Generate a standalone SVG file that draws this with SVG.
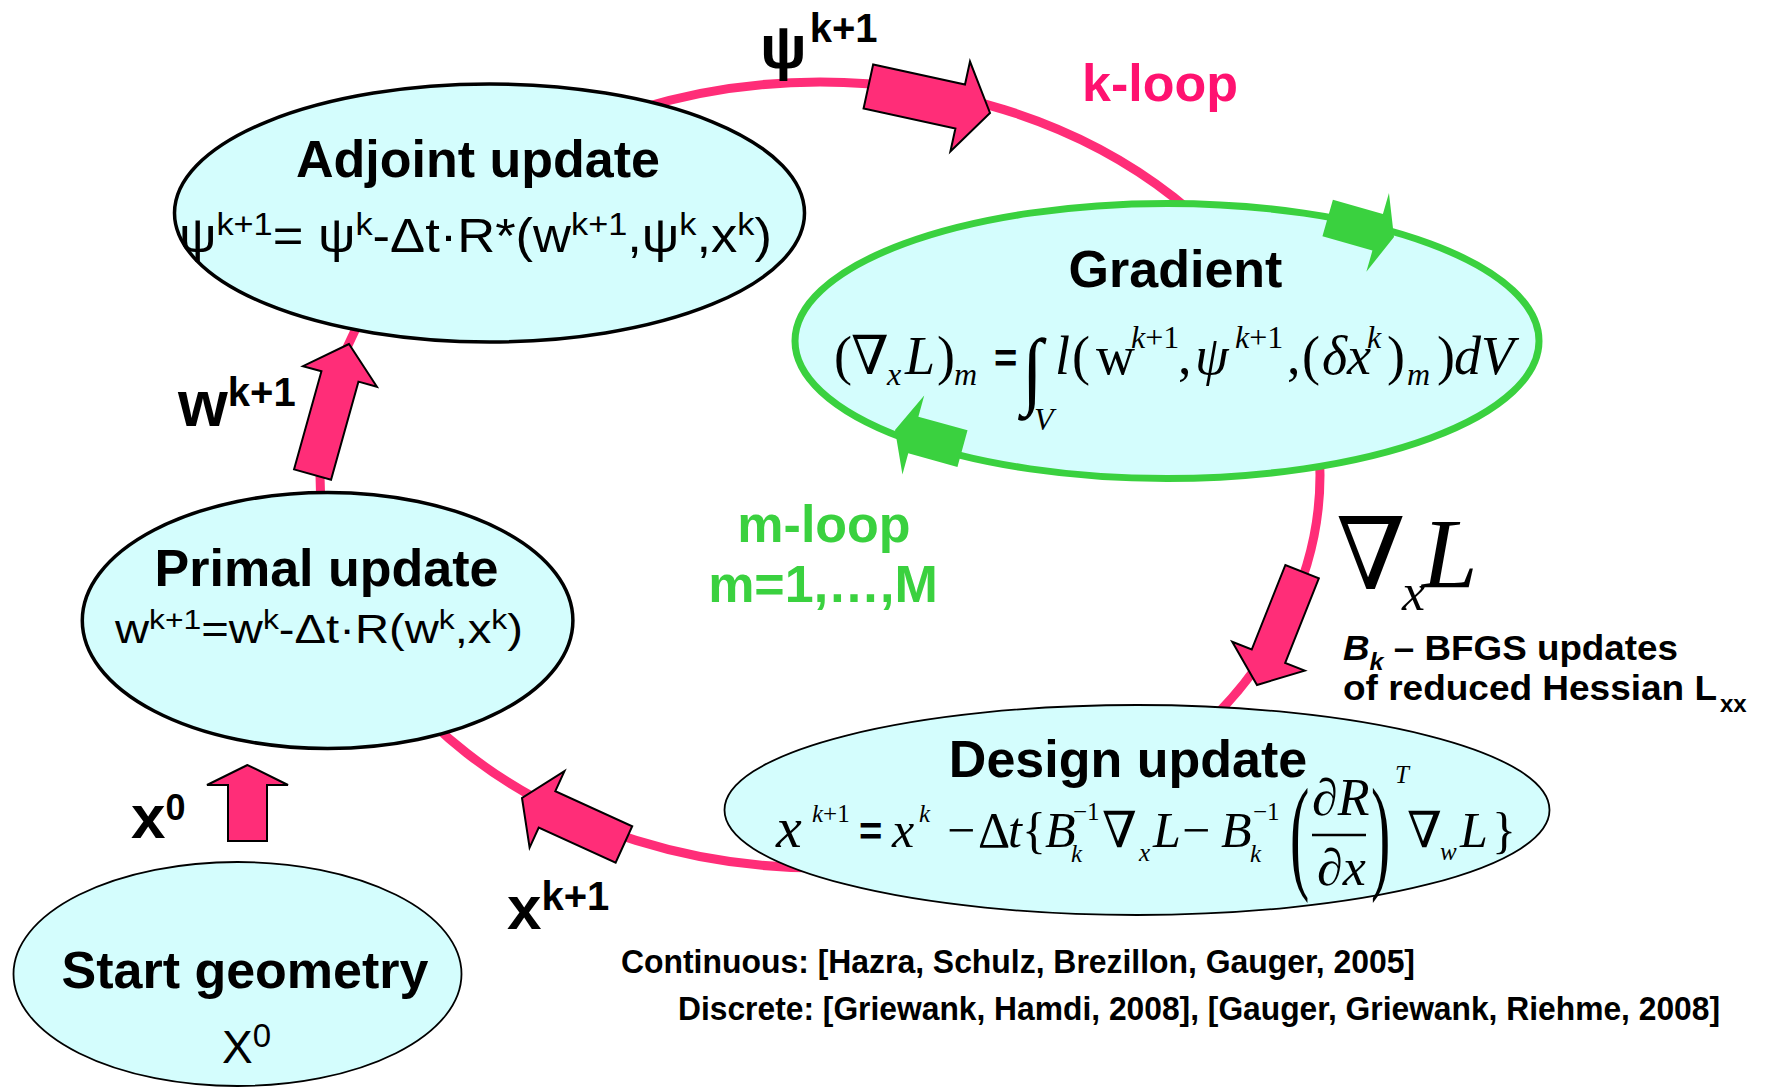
<svg xmlns="http://www.w3.org/2000/svg" width="1766" height="1089" viewBox="0 0 1766 1089">
  <style>
    .node { fill: #d4fdfd; stroke: #000; }
    .thick { stroke-width: 3.5; }
    .thin { stroke-width: 1.8; }
    .sans { font-family: 'Liberation Sans', Arial, sans-serif; }
    .bold { font-family: 'Liberation Sans', Arial, sans-serif; font-weight: bold; }
    .title { font-family: 'Liberation Sans', Arial, sans-serif; font-weight: bold; font-size: 52px; text-anchor: middle; }
    .serif { font-family: 'Liberation Serif', 'DejaVu Serif', serif; }
    .it { font-style: italic; }
    .parrow { fill: #ff2d78; stroke: #000; stroke-width: 2; stroke-linejoin: miter; }
    .garrow { fill: #3ad13f; }
  </style>

  <rect width="1766" height="1089" fill="#fff"/>

  <!-- k-loop: the outer cycle and its flow arrows -->
  <g id="connectors">
    <ellipse cx="820" cy="475" rx="500" ry="393" fill="none" stroke="#ff2d78" stroke-width="9"/>
    <!-- adjoint -> gradient (psi) -->
    <polygon class="parrow" transform="translate(990,113) rotate(12.3)" points="0,0 -30.5,-46 -30.5,-22.5 -124.5,-22.5 -124.5,22.5 -30.5,22.5 -30.5,46"/>
    <!-- primal -> adjoint (w) -->
    <polygon class="parrow" transform="translate(349,344) rotate(-74.4)" points="0,0 -33.7,-38.4 -33.7,-19.2 -135.5,-19.2 -135.5,19.2 -33.7,19.2 -33.7,38.4"/>
    <!-- gradient -> design (nabla_x L) -->
    <polygon class="parrow" transform="translate(1257,685) rotate(111.7)" points="0,0 -31,-39 -31,-18 -122,-18 -122,18 -31,18 -31,39"/>
    <!-- design -> primal (x) -->
    <polygon class="parrow" transform="translate(522,798) rotate(204.5)" points="0,0 -27.5,-42 -27.5,-20 -112,-20 -112,20 -27.5,20 -27.5,42"/>
    <!-- start -> primal (x0) -->
    <polygon class="parrow" transform="translate(247.5,765) rotate(-90)" points="0,0 -20,-40.5 -20,-19.5 -76,-19.5 -76,19.5 -20,19.5 -20,40.5"/>
  </g>

  <!-- Adjoint update -->
  <g id="adjoint">
    <ellipse class="node thick" cx="489.5" cy="213" rx="315" ry="129"/>
    <text class="title" x="478" y="177">Adjoint update</text>
    <text class="sans" x="179" y="252" font-size="49" textLength="593" lengthAdjust="spacingAndGlyphs">ψ<tspan font-size="32" dy="-17">k+1</tspan><tspan dy="17">= ψ</tspan><tspan font-size="32" dy="-17">k</tspan><tspan dy="17">-Δt·R*(w</tspan><tspan font-size="32" dy="-17">k+1</tspan><tspan dy="17">,ψ</tspan><tspan font-size="32" dy="-17">k</tspan><tspan dy="17">,x</tspan><tspan font-size="32" dy="-17">k</tspan><tspan dy="17">)</tspan></text>
  </g>

  <!-- Gradient with inner m-loop -->
  <g id="gradient">
    <ellipse cx="1167" cy="341" rx="372" ry="137.5" fill="#d4fdfd" stroke="#3ad13f" stroke-width="7"/>
    <polygon class="garrow" transform="translate(1394,237) rotate(16)" points="0,0 -17,-41 -17,-19 -69,-19 -69,19 -17,19 -17,41"/>
    <polygon class="garrow" transform="translate(895,430) rotate(195.4)" points="0,0 -19,-41 -19,-19 -70,-19 -70,19 -19,19 -19,41"/>
    <text class="title" x="1175.5" y="287">Gradient</text>
    <text class="serif" font-size="54" y="374">
      <tspan x="834">(</tspan><tspan x="851">∇</tspan><tspan class="it" x="887" y="385" font-size="32">x</tspan><tspan class="it" x="905" y="374">L</tspan><tspan x="937">)</tspan><tspan class="it" x="954" y="385" font-size="32">m</tspan>
      <tspan class="bold" x="994" y="372" font-size="40">=</tspan>
      <tspan class="it" x="1034" y="430" font-size="32">V</tspan>
      <tspan class="it" x="1055" y="374">l</tspan><tspan x="1072">(</tspan><tspan x="1096">w</tspan><tspan class="it" x="1131" y="348" font-size="32">k</tspan><tspan font-size="32">+1</tspan><tspan x="1178" y="374">,</tspan><tspan class="it" x="1195">ψ</tspan><tspan class="it" x="1235" y="348" font-size="32">k</tspan><tspan font-size="32">+1</tspan><tspan x="1287" y="374">,</tspan><tspan x="1302">(</tspan><tspan class="it" x="1322">δx</tspan><tspan class="it" x="1367" y="348" font-size="32">k</tspan><tspan x="1387" y="374">)</tspan><tspan class="it" x="1407" y="385" font-size="32">m</tspan><tspan x="1437" y="374">)</tspan><tspan class="it" x="1454">dV</tspan>
    </text>
    <text class="serif" font-size="76" transform="translate(1022,398) scale(1,1.12)">∫</text>
  </g>

  <!-- Design update -->
  <g id="design">
    <ellipse class="node thin" cx="1137" cy="810" rx="412.5" ry="105"/>
    <text class="title" x="1128" y="777">Design update</text>
    <text class="serif" font-size="50" y="847">
      <tspan class="it" x="776" font-size="58">x</tspan><tspan class="it" x="812" y="822" font-size="25">k</tspan><tspan font-size="25">+1</tspan>
      <tspan class="bold" x="859" y="845" font-size="40">=</tspan>
      <tspan class="it" x="892" y="847">x</tspan><tspan class="it" x="919" y="822" font-size="25">k</tspan>
      <tspan x="947" y="847">−</tspan><tspan x="978">Δ</tspan><tspan class="it" x="1008">t</tspan><tspan x="1022">{</tspan>
      <tspan class="it" x="1045">B</tspan><tspan class="it" x="1071" y="862" font-size="25">k</tspan><tspan x="1073" y="820" font-size="25">−1</tspan>
      <tspan x="1102" y="847">∇</tspan><tspan class="it" x="1139" y="861" font-size="25">x</tspan><tspan class="it" x="1153" y="847">L</tspan>
      <tspan x="1182">−</tspan>
      <tspan class="it" x="1221">B</tspan><tspan class="it" x="1250" y="862" font-size="25">k</tspan><tspan x="1253" y="820" font-size="25">−1</tspan>
      <tspan class="it" x="1395" y="783" font-size="25">T</tspan>
      <tspan x="1407" y="847">∇</tspan><tspan class="it" x="1440" y="860" font-size="25">w</tspan><tspan class="it" x="1460" y="847">L</tspan><tspan x="1492">}</tspan>
    </text>
    <text class="serif" font-size="58" transform="translate(1290,876) scale(1,2.2)">(</text>
    <text class="serif" font-size="58" transform="translate(1371,876) scale(1,2.2)">)</text>
    <text class="serif" font-size="52" x="1312" y="815">∂<tspan class="it">R</tspan></text>
    <line x1="1312" y1="835" x2="1366" y2="835" stroke="#000" stroke-width="2.5"/>
    <text class="serif" font-size="52" x="1317" y="885">∂<tspan class="it">x</tspan></text>
  </g>

  <!-- Primal update -->
  <g id="primal">
    <ellipse class="node thick" cx="327.6" cy="620.5" rx="245.3" ry="128"/>
    <text class="title" x="326.5" y="586">Primal update</text>
    <text class="sans" x="115" y="643" font-size="40" textLength="408" lengthAdjust="spacingAndGlyphs">w<tspan font-size="27" dy="-14">k+1</tspan><tspan dy="14">=w</tspan><tspan font-size="27" dy="-14">k</tspan><tspan dy="14">-Δt·R(w</tspan><tspan font-size="27" dy="-14">k</tspan><tspan dy="14">,x</tspan><tspan font-size="27" dy="-14">k</tspan><tspan dy="14">)</tspan></text>
  </g>

  <!-- Start geometry -->
  <g id="start">
    <ellipse class="node thin" cx="237.5" cy="974" rx="224" ry="112"/>
    <text class="title" x="245" y="988" font-size="53">Start geometry</text>
    <text class="sans" x="222" y="1063" font-size="46">X<tspan font-size="33" dy="-16">0</tspan></text>
  </g>

  <!-- flow labels -->
  <g id="labels">
    <text class="bold" x="760" y="68" font-size="62">ψ<tspan font-size="40" dy="-26" dx="3">k+1</tspan></text>
    <text class="bold" x="1082" y="101" font-size="52" fill="#ff1270">k-loop</text>
    <text class="bold" x="178" y="426" font-size="64">w<tspan font-size="40" dy="-20">k+1</tspan></text>
    <text class="bold" x="131" y="838" font-size="62">x<tspan font-size="36" dy="-18">0</tspan></text>
    <text class="bold" x="507" y="929" font-size="62">x<tspan font-size="40" dy="-19">k+1</tspan></text>
    <text class="bold" x="824" y="542" font-size="52" fill="#3ad13f" text-anchor="middle">m-loop</text>
    <text class="bold" x="823" y="602" font-size="52" fill="#3ad13f" text-anchor="middle">m=1,…,M</text>
    <text class="serif" x="1336" y="589" font-size="100">∇</text>
    <text class="serif it" x="1402" y="610" font-size="52">x</text>
    <text class="serif it" x="1422" y="587" font-size="100">L</text>
    <text class="bold" x="1343" y="660" font-size="35" textLength="335" lengthAdjust="spacingAndGlyphs"><tspan font-style="italic">B</tspan><tspan font-style="italic" font-size="24" dy="10">k</tspan><tspan dy="-10"> – BFGS updates</tspan></text>
    <text class="bold" x="1343" y="700" font-size="35" textLength="374" lengthAdjust="spacingAndGlyphs">of reduced Hessian L</text>
    <text class="bold" x="1720" y="712" font-size="24">xx</text>
    <text class="bold" x="621" y="973" font-size="34" textLength="794" lengthAdjust="spacingAndGlyphs">Continuous: [Hazra, Schulz, Brezillon, Gauger, 2005]</text>
    <text class="bold" x="678" y="1020" font-size="34" textLength="1042" lengthAdjust="spacingAndGlyphs">Discrete: [Griewank, Hamdi, 2008], [Gauger, Griewank, Riehme, 2008]</text>
  </g>
</svg>
